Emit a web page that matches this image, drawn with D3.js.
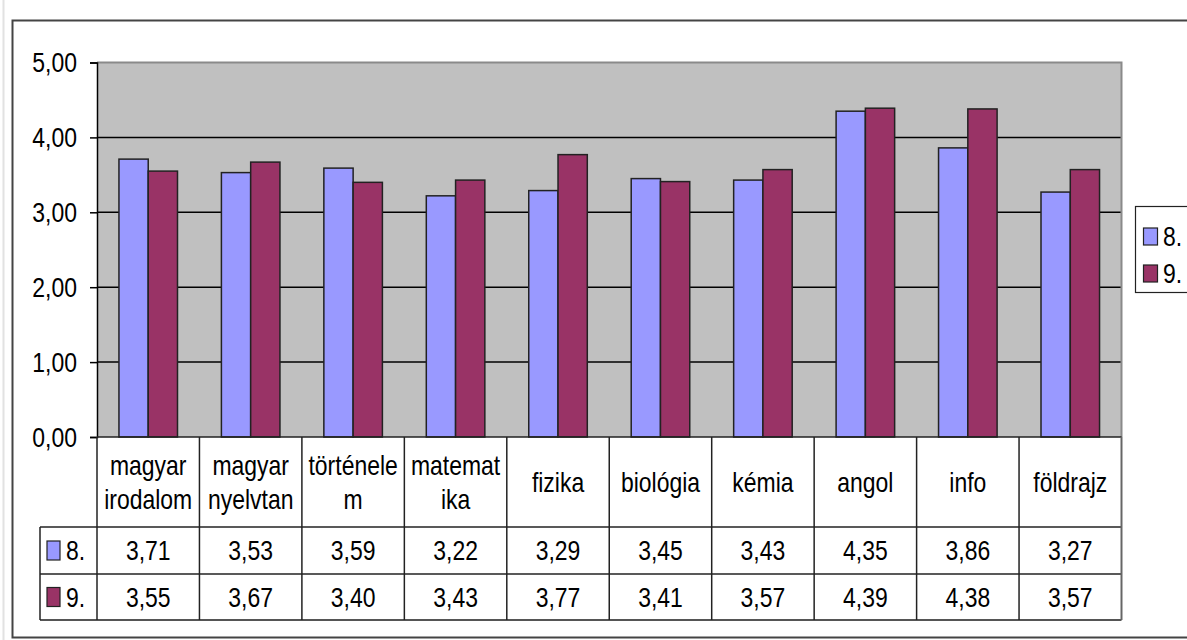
<!DOCTYPE html>
<html>
<head>
<meta charset="utf-8">
<script src="https://cdn.jsdelivr.net/npm/d3@7"></script>
<style>
  body { margin: 0; background: #fff; }
  svg text { font-family: "Liberation Sans", Arial, sans-serif; fill: #000; }
</style>
</head>
<body>
<div id="chart"></div>
<script>
// data
const categories = ["magyar irodalom", "magyar nyelvtan", "történelem", "matematika", "fizika", "biológia", "kémia", "angol", "info", "földrajz"];
// header labels as they wrap in the table
const headerLines = [["magyar", "irodalom"], ["magyar", "nyelvtan"], ["történele", "m"], ["matemat", "ika"], ["fizika"], ["biológia"], ["kémia"], ["angol"], ["info"], ["földrajz"]];
const seriesNames = ["8.", "9."];
const values8 = [3.71, 3.53, 3.59, 3.22, 3.29, 3.45, 3.43, 4.35, 3.86, 3.27];
const values9 = [3.55, 3.67, 3.40, 3.43, 3.77, 3.41, 3.57, 4.39, 4.38, 3.57];
const yTicks = [0, 1, 2, 3, 4, 5];

const colors = { "8.": "#9999FF", "9.": "#993366" };
const series = [
  { name: "8.", values: values8 },
  { name: "9.", values: values9 },
];

const width = 1187, height = 640;
const plot = { left: 97, right: 1121.5, top: 62.5, bottom: 437 };
const rows = { header: 527, r1: 574, r2: 620 };
const fontSize = 28;
const squeeze = 0.82; // text in the picture is horizontally condensed
const fmt = (d) => d3.format(".2f")(d).replace(".", ",");

const svg = d3.select("#chart").append("svg")
  .attr("width", width)
  .attr("height", height);

// text helper: squeezed horizontally
function addText(g, x, y, str, anchor) {
  return g.append("text")
    .attr("transform", `translate(${x},${y}) scale(${squeeze},1)`)
    .attr("text-anchor", anchor || "middle")
    .attr("dominant-baseline", "central")
    .style("font-size", fontSize + "px")
    .text(str);
}

// faint line at far left
svg.append("line")
  .attr("x1", 3.5).attr("x2", 3.5).attr("y1", 0).attr("y2", height)
  .attr("stroke", "#e2e2e2").attr("stroke-width", 2);

// chart frame
svg.append("path")
  .attr("d", `M${width + 2},20.5 H12.5 V637.5 H${width + 2}`)
  .attr("fill", "none")
  .attr("stroke", "#444")
  .attr("stroke-width", 2);

// scales
const x = d3.scaleBand()
  .domain(categories)
  .range([plot.left, plot.right]);

const bw = x.bandwidth();
const xInner = d3.scaleBand()
  .domain(seriesNames)
  .range([bw * 0.75 / 3.5, bw * 2.75 / 3.5]);

const y = d3.scaleLinear()
  .domain([0, 5])
  .range([plot.bottom, plot.top]);

// plot area
svg.append("rect")
  .attr("x", plot.left).attr("y", plot.top)
  .attr("width", plot.right - plot.left).attr("height", plot.bottom - plot.top)
  .attr("fill", "#C0C0C0");

// gridlines
svg.append("g")
  .selectAll("line")
  .data(yTicks.filter((d) => d > 0 && d < 5))
  .join("line")
  .attr("x1", plot.left).attr("x2", plot.right)
  .attr("y1", (d) => y(d)).attr("y2", (d) => y(d))
  .attr("stroke", "#000").attr("stroke-width", 1.5);

// plot border top / right
svg.append("path")
  .attr("d", `M${plot.left},${plot.top} H${plot.right} V${plot.bottom}`)
  .attr("fill", "none")
  .attr("stroke", "#8a8a8a")
  .attr("stroke-width", 2);

// bars
const groups = svg.append("g")
  .selectAll("g")
  .data(series)
  .join("g")
  .attr("fill", (d) => colors[d.name]);

groups.selectAll("rect")
  .data((s) => s.values.map((v, i) => ({ name: s.name, cat: categories[i], v })))
  .join("rect")
  .attr("x", (d) => x(d.cat) + xInner(d.name))
  .attr("y", (d) => y(d.v))
  .attr("width", xInner.bandwidth())
  .attr("height", (d) => y(0) - y(d.v))
  .attr("stroke", "#222")
  .attr("stroke-width", 1.5);

// y axis
const yAxis = d3.axisLeft(y)
  .tickValues(yTicks)
  .tickSize(7)
  .tickFormat(fmt);

const yAxisGroup = svg.append("g")
  .attr("transform", `translate(${plot.left},0)`)
  .call(yAxis);

yAxisGroup.select(".domain").attr("stroke", "#000").attr("stroke-width", 1.5);
yAxisGroup.selectAll(".tick line").attr("stroke", "#000").attr("stroke-width", 1.5);
yAxisGroup.selectAll(".tick text").remove();

const yLabels = svg.append("g");
yTicks.forEach((t) => addText(yLabels, 77, y(t), fmt(t), "end"));

// data table
const table = svg.append("g");
const lineColor = "#222";

// horizontal lines
table.append("line")
  .attr("x1", plot.left).attr("x2", plot.right)
  .attr("y1", plot.bottom).attr("y2", plot.bottom)
  .attr("stroke", lineColor).attr("stroke-width", 1.5);
table.append("line")
  .attr("x1", 40).attr("x2", plot.right)
  .attr("y1", rows.header).attr("y2", rows.header)
  .attr("stroke", lineColor).attr("stroke-width", 1.5);
table.append("line")
  .attr("x1", 40).attr("x2", plot.right)
  .attr("y1", rows.r1).attr("y2", rows.r1)
  .attr("stroke", lineColor).attr("stroke-width", 1.5);
table.append("line")
  .attr("x1", 40).attr("x2", plot.right)
  .attr("y1", rows.r2).attr("y2", rows.r2)
  .attr("stroke", "#555").attr("stroke-width", 2);

// vertical lines
table.append("line")
  .attr("x1", 40).attr("x2", 40)
  .attr("y1", rows.header).attr("y2", rows.r2)
  .attr("stroke", lineColor).attr("stroke-width", 1.5);
table.selectAll(".vline")
  .data(categories)
  .join("line")
  .attr("class", "vline")
  .attr("x1", (d) => x(d)).attr("x2", (d) => x(d))
  .attr("y1", plot.bottom).attr("y2", rows.r2)
  .attr("stroke", lineColor).attr("stroke-width", 1.5);
table.append("line")
  .attr("x1", plot.right).attr("x2", plot.right)
  .attr("y1", plot.bottom).attr("y2", rows.r2)
  .attr("stroke", "#666").attr("stroke-width", 2);

// header labels
const headerMid = (plot.bottom + rows.header) / 2;
const lineGap = 34;
categories.forEach((c, i) => {
  const lines = headerLines[i];
  const cx = x(c) + bw / 2;
  lines.forEach((l, j) => {
    const ly = headerMid + (j - (lines.length - 1) / 2) * lineGap;
    addText(table, cx, ly, l);
  });
});

// values rows
const rowMids = [(rows.header + rows.r1) / 2, (rows.r1 + rows.r2) / 2];
series.forEach((s, si) => {
  const ry = rowMids[si];
  table.append("rect")
    .attr("x", 47).attr("y", ry - 9.5)
    .attr("width", 13).attr("height", 19)
    .attr("fill", colors[s.name])
    .attr("stroke", "#222").attr("stroke-width", 1.2);
  addText(table, 66, ry, s.name, "start");
  s.values.forEach((v, i) => {
    addText(table, x(categories[i]) + bw / 2, ry, fmt(v));
  });
});

// legend
const legend = svg.append("g");
legend.append("rect")
  .attr("x", 1135.5).attr("y", 206.5)
  .attr("width", 80).attr("height", 86)
  .attr("fill", "#fff")
  .attr("stroke", "#222").attr("stroke-width", 1.2);

const legendY = [236, 273];
series.forEach((s, si) => {
  legend.append("rect")
    .attr("x", 1143.5).attr("y", legendY[si] - 8)
    .attr("width", 14).attr("height", 17)
    .attr("fill", colors[s.name])
    .attr("stroke", "#222").attr("stroke-width", 1.2);
  addText(legend, 1163, legendY[si], s.name, "start");
});
</script>
</body>
</html>
